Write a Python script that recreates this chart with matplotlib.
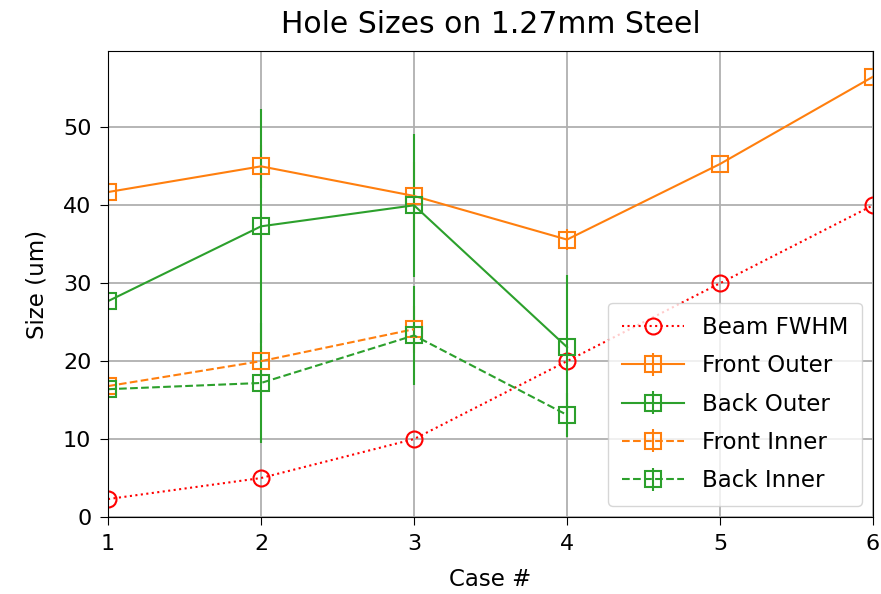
import matplotlib
matplotlib.use("Agg")
import matplotlib.pyplot as plt
import numpy as np

cases = [1, 2, 3, 4, 5, 6]
beam_fwhm = [2.3, 5.0, 10.0, 20.0, 30.0, 40.0]

front_outer = [41.7, 45.0, 41.2, 35.6, 45.3, 56.5]
front_outer_err = [2.0, 2.8, 4.4, 1.4, 0.0, 0.0]

back_outer = [27.7, 37.3, 40.0, 21.8]
back_outer_err = [1.0, 15.0, 9.2, 9.3]

front_inner = [16.8, 20.0, 24.1]
front_inner_err = [1.5, 2.0, 3.0]

back_inner = [16.4, 17.2, 23.3, 13.1]
back_inner_err = [1.0, 7.7, 6.3, 2.8]

fig = plt.figure(figsize=(8.81, 5.94), dpi=100)
ax = fig.add_axes([108/881, 1-517/594, (873-108)/881, (517-51)/594])

ms = 11.5
ax.plot(cases, beam_fwhm, ':', color='red', marker='o', mfc='none', ms=ms, mew=1.5, label='Beam FWHM')
ax.errorbar(cases, front_outer, yerr=front_outer_err, fmt='-s', color='tab:orange', mfc='none', ms=ms, mew=1.5, label='Front Outer')
ax.errorbar(cases[:4], back_outer, yerr=back_outer_err, fmt='-s', color='tab:green', mfc='none', ms=ms, mew=1.5, label='Back Outer')
ax.errorbar(cases[:3], front_inner, yerr=front_inner_err, fmt='--s', color='tab:orange', mfc='none', ms=ms, mew=1.5, label='Front Inner')
ax.errorbar(cases[:4], back_inner, yerr=back_inner_err, fmt='--s', color='tab:green', mfc='none', ms=ms, mew=1.5, label='Back Inner')

ax.set_xlim(1, 6)
ax.set_ylim(0, 59.8)
ax.set_yticks([0, 10, 20, 30, 40, 50])
ax.grid(True, linewidth=1.3)
ax.tick_params(labelsize=16, length=6, pad=6)
ax.set_xlabel('Case #', fontsize=16.5, labelpad=10)
ax.set_ylabel('Size (um)', fontsize=16.5, labelpad=10)
ax.set_title('Hole Sizes on 1.27mm Steel', fontsize=21.5, pad=13)
ax.legend(loc='lower right', fontsize=16.5, handlelength=2.7,
          borderpad=0.58, labelspacing=0.67)

fig.savefig('out.png', dpi=100)
